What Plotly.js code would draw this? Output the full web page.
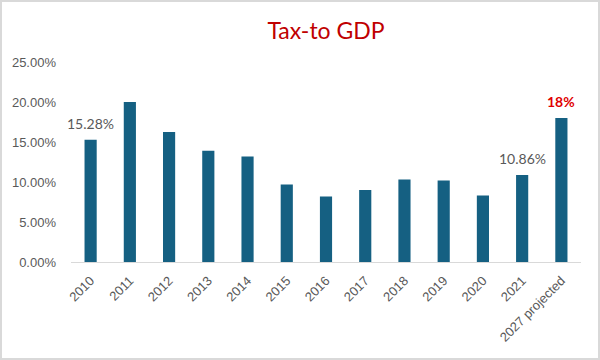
<!DOCTYPE html>
<html>
<head>
<meta charset="utf-8">
<script src="https://cdn.plot.ly/plotly-3.0.1.min.js"></script>
<style>
  html, body { margin: 0; padding: 0; background: #ffffff; }
  #wrap { position: relative; width: 600px; height: 360px; }
  #chart { width: 600px; height: 360px; }
  #frame { position: absolute; left: 0; top: 0; width: 600px; height: 360px; box-sizing: border-box; border: 2px solid #d9d9d9; pointer-events: none; }
</style>
</head>
<body>
<div id="wrap"><div id="chart"></div><div id="frame"></div></div>
<script>
const categories = ["2010","2011","2012","2013","2014","2015","2016","2017","2018","2019","2020","2021","2027 projected"];
const taxToGdp = [15.28, 20.0, 16.25, 13.9, 13.2, 9.7, 8.2, 9.0, 10.3, 10.2, 8.3, 10.86, 18.0];
const labelText = ["15.28%", "", "", "", "", "", "", "", "", "", "", "10.86%", "18%"];
const labelColor = ["#595959", "", "", "", "", "", "", "", "", "", "", "#595959", "#e00000"];
const labelBold = [false, false, false, false, false, false, false, false, false, false, false, false, true];
const yTicks = [0, 5, 10, 15, 20, 25];

const annotations = [];
labelText.forEach((t, i) => {
  if (!t) return;
  annotations.push({
    x: i, y: taxToGdp[i], xref: "x", yref: "y",
    text: labelBold[i] ? "<b>" + t + "</b>" : t,
    showarrow: false, yanchor: "bottom", yshift: 6,
    font: { family: "Lato, 'Liberation Sans', sans-serif", size: 14, color: labelColor[i] }
  });
});

const trace = {
  type: "bar",
  x: categories,
  y: taxToGdp,
  marker: { color: "#156082" },
  hoverinfo: "none"
};

const layout = {
  width: 600, height: 360,
  margin: { l: 71, r: 19, t: 62, b: 98 },
  paper_bgcolor: "#ffffff", plot_bgcolor: "#ffffff",
  bargap: 0.69,
  showlegend: false,
  title: {
    text: "Tax-to GDP",
    font: { family: "Lato, 'Noto Sans', sans-serif", size: 23, color: "#c00000" },
    x: 0.5, xanchor: "center", y: 0.915, yanchor: "middle", xref: "paper"
  },
  xaxis: {
    type: "category",
    categoryorder: "array", categoryarray: categories,
    range: [-0.5, categories.length - 0.5],
    tickangle: -45,
    ticklabelstandoff: 5,
    showline: true, linecolor: "#d9d9d9", linewidth: 1,
    ticks: "", showgrid: false, zeroline: false,
    tickfont: { family: "'Liberation Sans', Arial, sans-serif", size: 13, color: "#595959" }
  },
  yaxis: {
    range: [0, 25],
    tickvals: yTicks,
    ticktext: yTicks.map(v => v.toFixed(2) + "%"),
    showgrid: false, zeroline: false, showline: false, ticks: "",
    ticklabelstandoff: 14,
    tickfont: { family: "'Liberation Sans', Arial, sans-serif", size: 13, color: "#595959" }
  },
  annotations: annotations
};

Plotly.newPlot("chart", [trace], layout, { displayModeBar: false, staticPlot: true });
</script>
</body>
</html>
